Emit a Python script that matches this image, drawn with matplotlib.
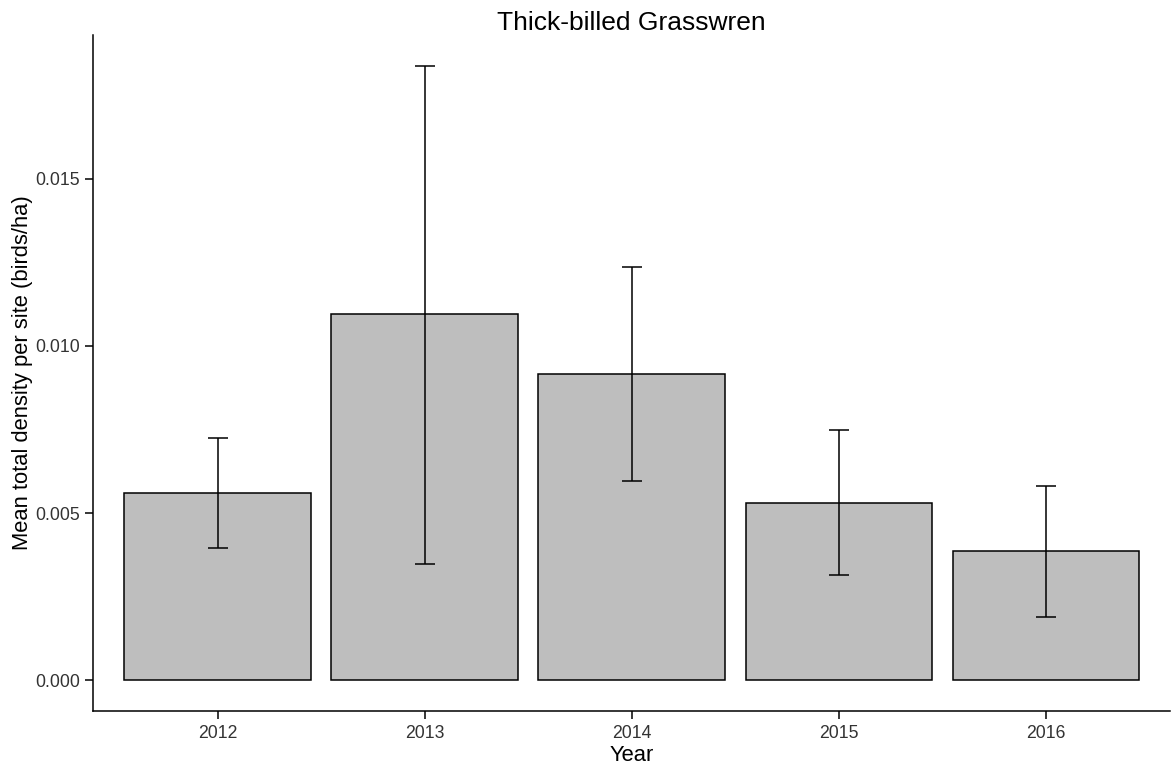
import matplotlib
matplotlib.use("Agg")
import matplotlib.pyplot as plt
import numpy as np

years = ["2012", "2013", "2014", "2015", "2016"]
means = [0.00559, 0.01094, 0.00915, 0.00531, 0.00386]
lower = [0.00395, 0.00347, 0.00595, 0.00314, 0.00190]
upper = [0.00726, 0.01838, 0.01236, 0.00748, 0.00582]
yticks = [0.000, 0.005, 0.010, 0.015]
ytick_labels = ["0.000", "0.005", "0.010", "0.015"]

plt.rcParams["font.family"] = ["Liberation Sans", "DejaVu Sans"]

W, H = 1176, 769
fig = plt.figure(figsize=(W / 100, H / 100), dpi=100)
ax = fig.add_axes([93.3 / W, 1 - 711 / H, (1170 - 93.3) / W, (711 - 35) / H])

x = np.arange(len(years))
m = np.array(means)
yerr = np.vstack([m - np.array(lower), np.array(upper) - m])

ax.bar(x, means, width=0.9, color="#BEBEBE", edgecolor="black", linewidth=1.1, zorder=2)
ax.errorbar(x, means, yerr=yerr, fmt="none", ecolor="black", elinewidth=1.1,
            capsize=7.4, capthick=1.1, zorder=3)

ax.set_xlim(-0.6, len(years) - 0.4)
rng = max(upper) - 0
ax.set_ylim(-0.05 * rng, max(upper) + 0.05 * rng)

ax.set_xticks(x)
ax.set_xticklabels(years)
ax.set_yticks(yticks)
ax.set_yticklabels(ytick_labels)

for s in ["top", "right"]:
    ax.spines[s].set_visible(False)
for s in ["left", "bottom"]:
    ax.spines[s].set_linewidth(1.1)
    ax.spines[s].set_color("black")

ax.tick_params(axis="both", direction="out", length=6, width=1.1, color="black",
               labelsize=12.7, labelcolor="#333333")
ax.tick_params(axis="y", pad=3.6)
ax.tick_params(axis="x", pad=4.0)

fig.text((93.3 + 1170) / 2 / W, 1 - 29.5 / H, "Thick-billed Grasswren",
         ha="center", va="baseline", fontsize=19, color="black")
fig.text((93.3 + 1170) / 2 / W, 1 - 760.7 / H, "Year",
         ha="center", va="baseline", fontsize=15.8, color="black")
fig.text(23 / W, 1 - 373 / H, "Mean total density per site (birds/ha)",
         ha="center", va="center", rotation=90, fontsize=15.8, color="black")

fig.savefig("out.png", dpi=100, facecolor="white")
